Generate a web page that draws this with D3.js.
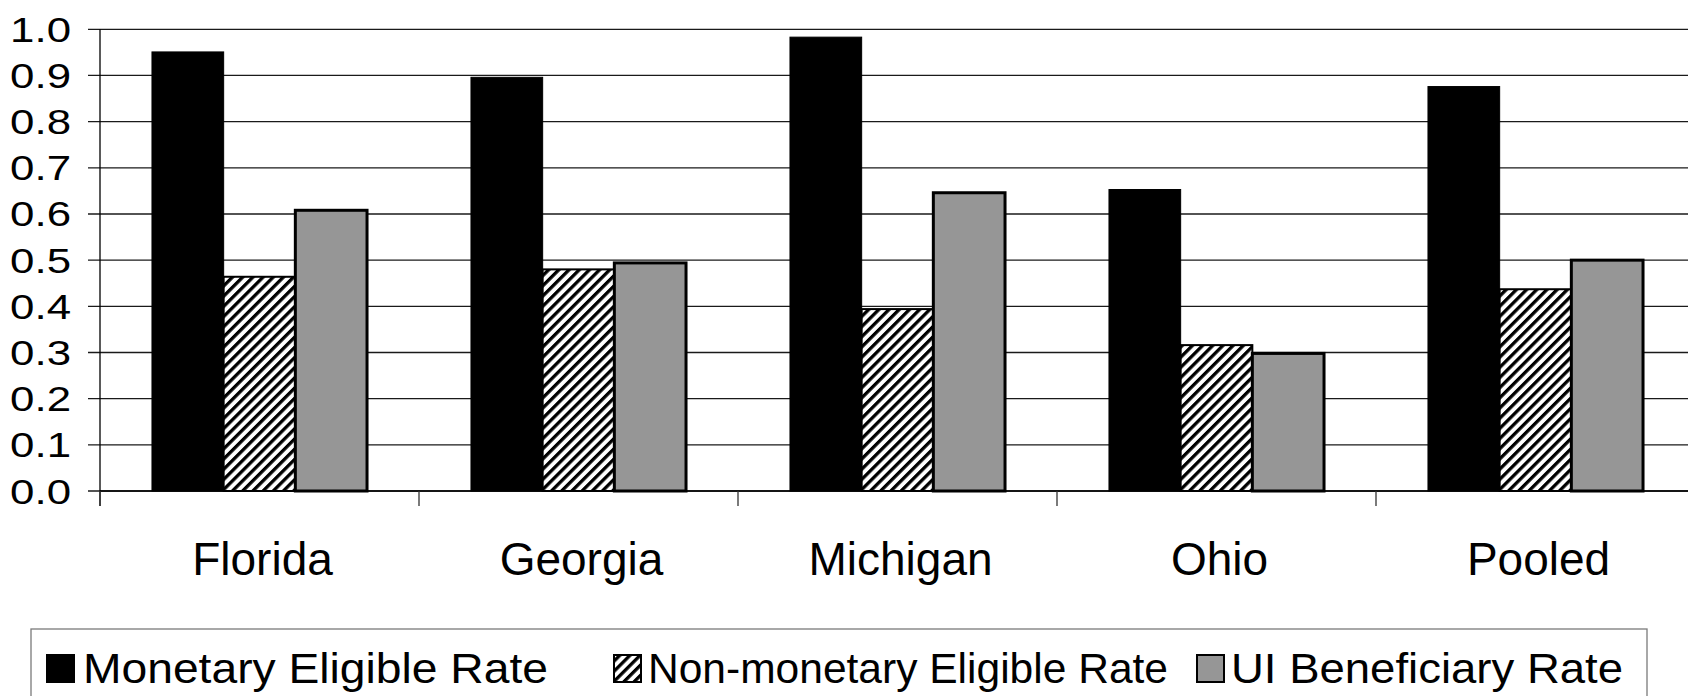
<!DOCTYPE html>
<html>
<head>
<meta charset="utf-8">
<script src="https://cdn.jsdelivr.net/npm/d3@7"></script>
<style>
  html, body { margin: 0; padding: 0; background: #fff; }
  svg { display: block; }
  text { font-family: "Liberation Sans", Arial, sans-serif; fill: #000; }
</style>
</head>
<body>
<svg id="chart" width="1688" height="696"></svg>
<script>
// Claim outcome rates by state
const states = ["Florida", "Georgia", "Michigan", "Ohio", "Pooled"];
const seriesNames = ["Monetary Eligible Rate", "Non-monetary Eligible Rate", "UI Beneficiary Rate"];
const monetaryEligible = [0.951, 0.896, 0.983, 0.653, 0.876];
const nonMonetaryEligible = [0.464, 0.480, 0.394, 0.316, 0.437];
const uiBeneficiary = [0.608, 0.494, 0.646, 0.298, 0.500];
const yTicks = [0, 0.1, 0.2, 0.3, 0.4, 0.5, 0.6, 0.7, 0.8, 0.9, 1.0];

const seriesValues = [monetaryEligible, nonMonetaryEligible, uiBeneficiary];

const svg = d3.select("#chart");
const W = 1688, H = 696;

// plot area (right edge runs past the window and is clipped)
const plot = { left: 100, right: 1695, top: 29.3, bottom: 491 };

const defs = svg.append("defs");
const hatch = defs.append("pattern")
  .attr("id", "hatch")
  .attr("patternUnits", "userSpaceOnUse")
  .attr("width", 7.2).attr("height", 7.2)
  .attr("patternTransform", "rotate(45)");
hatch.append("rect").attr("width", 7.2).attr("height", 7.2).attr("fill", "#fff");
hatch.append("rect").attr("x", 0).attr("width", 3.3).attr("height", 7.2).attr("fill", "#000");

const fills = ["#000", "url(#hatch)", "#969696"];
const strokes = ["#000", "#000", "#000"];
const strokeWidths = [1, 2, 3];

const x0 = d3.scaleBand().domain(states).range([plot.left, plot.right]).padding(0);
const x1 = d3.scaleBand().domain(d3.range(seriesNames.length))
  .range([0, x0.bandwidth()]).paddingInner(0).paddingOuter(0.725);
const y = d3.scaleLinear().domain([0, 1]).range([plot.bottom, plot.top]);

// horizontal gridlines with left tick marks
const grid = svg.append("g");
grid.selectAll("line").data(yTicks).join("line")
  .attr("x1", plot.left - 12).attr("x2", W)
  .attr("y1", d => y(d)).attr("y2", d => y(d))
  .attr("stroke", "#1a1a1a").attr("stroke-width", 1.3);

// y tick labels (wide face)
const yLab = svg.append("g");
yLab.selectAll("g").data(yTicks).join("g")
  .attr("transform", d => `translate(71,${y(d) + 12.5}) scale(1.27,1)`)
  .append("text")
  .attr("text-anchor", "end")
  .attr("font-size", 34.5)
  .text(d => d3.format(".1f")(d));

// bars
const groups = svg.append("g").selectAll("g").data(states).join("g")
  .attr("transform", d => `translate(${x0(d)},0)`);
groups.selectAll("rect")
  .data((d, i) => seriesValues.map((vals, s) => ({ s, v: vals[i] })))
  .join("rect")
  .attr("x", d => x1(d.s))
  .attr("width", x1.bandwidth())
  .attr("y", d => y(d.v))
  .attr("height", d => y(0) - y(d.v))
  .attr("fill", d => fills[d.s])
  .attr("stroke", d => strokes[d.s])
  .attr("stroke-width", d => strokeWidths[d.s]);

// axes lines
svg.append("line")
  .attr("x1", plot.left).attr("x2", plot.left)
  .attr("y1", plot.top).attr("y2", plot.bottom + 15)
  .attr("stroke", "#000").attr("stroke-width", 1.3);
svg.append("line")
  .attr("x1", plot.left).attr("x2", W)
  .attr("y1", plot.bottom).attr("y2", plot.bottom)
  .attr("stroke", "#000").attr("stroke-width", 1.3);

// category boundary ticks
svg.append("g").selectAll("line").data(states).join("line")
  .attr("x1", d => x0(d)).attr("x2", d => x0(d))
  .attr("y1", plot.bottom).attr("y2", plot.bottom + 15)
  .attr("stroke", "#333").attr("stroke-width", 1.3);

// category labels
svg.append("g").selectAll("text").data(states).join("text")
  .attr("x", d => x0(d) + x0.bandwidth() / 2 + 3)
  .attr("y", 575)
  .attr("text-anchor", "middle")
  .attr("font-size", 46)
  .text(d => d);

// legend
svg.append("rect")
  .attr("x", 31).attr("y", 629).attr("width", 1616).attr("height", 100)
  .attr("fill", "none").attr("stroke", "#7a7a7a").attr("stroke-width", 1.3);

const legendIconX = [46, 613, 1196];
const legendTextX = [83, 648, 1231];
const legendTextW = [465, 520, 392];
const legend = svg.append("g").selectAll("g").data(seriesNames).join("g");
legend.append("rect")
  .attr("x", (d, i) => legendIconX[i] + (i === 0 ? 0 : 1))
  .attr("y", (d, i) => i === 0 ? 654 : 655)
  .attr("width", (d, i) => i === 0 ? 29 : 27)
  .attr("height", (d, i) => i === 0 ? 29 : 27)
  .attr("fill", (d, i) => fills[i])
  .attr("stroke", "#000")
  .attr("stroke-width", (d, i) => i === 0 ? 0 : 2);
legend.append("text")
  .attr("x", (d, i) => legendTextX[i])
  .attr("y", 683)
  .attr("font-size", 43)
  .attr("textLength", (d, i) => legendTextW[i])
  .attr("lengthAdjust", "spacingAndGlyphs")
  .text(d => d);
</script>
</body>
</html>
